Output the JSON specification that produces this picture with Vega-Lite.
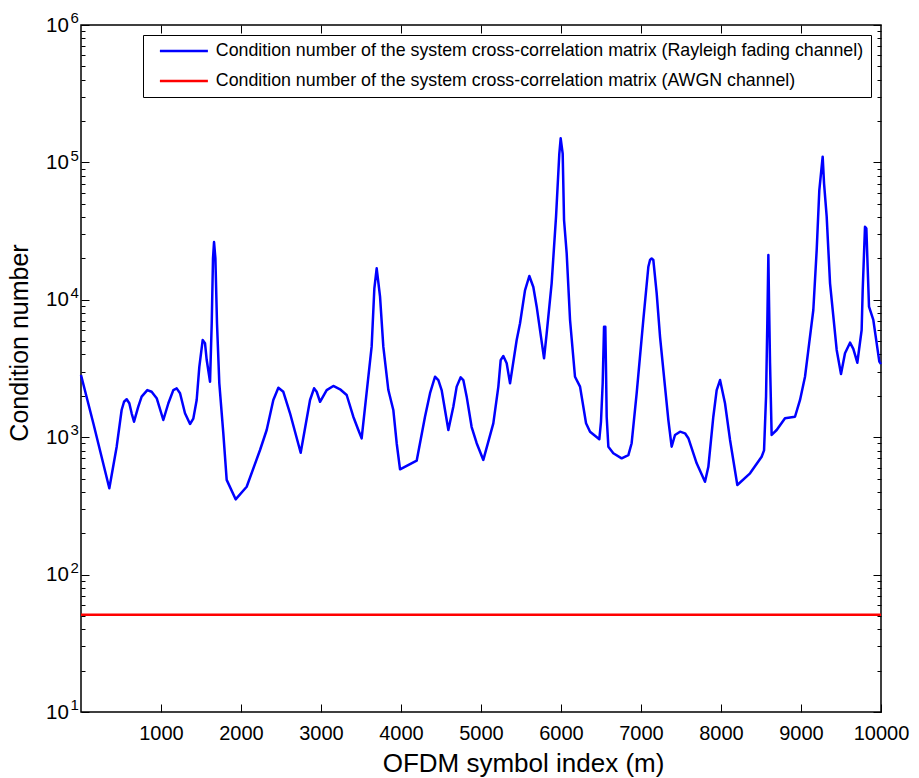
{
  "$schema": "https://vega.github.io/schema/vega-lite/v6.json",
  "width": 800,
  "height": 687,
  "autosize": {"type": "none"},
  "padding": {"left": 81, "top": 25, "right": 38, "bottom": 66},
  "background": "white",
  "config": {
    "view": {"stroke": "black", "strokeWidth": 1.5},
    "font": "Liberation Sans",
    "axis": {"labelFont": "Liberation Sans", "titleFont": "Liberation Sans", "labelColor": "black", "titleColor": "black", "titleFontWeight": "normal", "tickColor": "black", "domain": false, "grid": false, "labelFlush": false, "labelOverlap": false}
  },
  "datasets": {
    "rayleigh": [
      {"m": 0, "c": 2837}, {"m": 154, "c": 1262}, {"m": 354, "c": 425}, {"m": 446, "c": 853}, {"m": 508, "c": 1578}, {"m": 538, "c": 1811},
      {"m": 571, "c": 1890}, {"m": 604, "c": 1766}, {"m": 633, "c": 1493}, {"m": 663, "c": 1297}, {"m": 716, "c": 1667}, {"m": 758, "c": 1973},
      {"m": 829, "c": 2203}, {"m": 883, "c": 2141}, {"m": 946, "c": 1923}, {"m": 1029, "c": 1334}, {"m": 1092, "c": 1766}, {"m": 1154, "c": 2203},
      {"m": 1196, "c": 2266}, {"m": 1238, "c": 2090}, {"m": 1300, "c": 1493}, {"m": 1363, "c": 1248}, {"m": 1404, "c": 1365}, {"m": 1446, "c": 1866},
      {"m": 1479, "c": 3250}, {"m": 1521, "c": 5094}, {"m": 1550, "c": 4830}, {"m": 1571, "c": 3660}, {"m": 1613, "c": 2535}, {"m": 1634, "c": 6745},
      {"m": 1650, "c": 20000}, {"m": 1663, "c": 26300}, {"m": 1680, "c": 20000}, {"m": 1700, "c": 6745}, {"m": 1729, "c": 2466}, {"m": 1779, "c": 1067},
      {"m": 1821, "c": 489}, {"m": 1933, "c": 353}, {"m": 2071, "c": 436}, {"m": 2238, "c": 807}, {"m": 2321, "c": 1128}, {"m": 2404, "c": 1866},
      {"m": 2467, "c": 2291}, {"m": 2529, "c": 2141}, {"m": 2613, "c": 1493}, {"m": 2746, "c": 771}, {"m": 2863, "c": 1866}, {"m": 2913, "c": 2270},
      {"m": 2946, "c": 2141}, {"m": 2988, "c": 1811}, {"m": 3071, "c": 2203}, {"m": 3154, "c": 2360}, {"m": 3238, "c": 2232}, {"m": 3321, "c": 2028},
      {"m": 3404, "c": 1409}, {"m": 3467, "c": 1128}, {"m": 3508, "c": 981}, {"m": 3633, "c": 4561}, {"m": 3667, "c": 12130}, {"m": 3696, "c": 16950},
      {"m": 3738, "c": 10540}, {"m": 3779, "c": 4561}, {"m": 3842, "c": 2203}, {"m": 3904, "c": 1578}, {"m": 3946, "c": 904}, {"m": 3988, "c": 584},
      {"m": 4196, "c": 675}, {"m": 4300, "c": 1409}, {"m": 4363, "c": 2090}, {"m": 4425, "c": 2754}, {"m": 4467, "c": 2606}, {"m": 4508, "c": 2203},
      {"m": 4592, "c": 1128}, {"m": 4654, "c": 1667}, {"m": 4696, "c": 2334}, {"m": 4746, "c": 2727}, {"m": 4779, "c": 2606}, {"m": 4821, "c": 1973},
      {"m": 4883, "c": 1186}, {"m": 4946, "c": 904}, {"m": 5029, "c": 683}, {"m": 5154, "c": 1262}, {"m": 5217, "c": 2334}, {"m": 5246, "c": 3640},
      {"m": 5279, "c": 3898}, {"m": 5321, "c": 3451}, {"m": 5363, "c": 2466}, {"m": 5446, "c": 5094}, {"m": 5488, "c": 6745}, {"m": 5550, "c": 11700},
      {"m": 5604, "c": 14900}, {"m": 5654, "c": 12400}, {"m": 5696, "c": 8913}, {"m": 5788, "c": 3749}, {"m": 5821, "c": 5700}, {"m": 5883, "c": 13180},
      {"m": 5938, "c": 40300}, {"m": 5979, "c": 116000}, {"m": 5996, "c": 149700}, {"m": 6021, "c": 116000}, {"m": 6038, "c": 38100},
      {"m": 6071, "c": 21800}, {"m": 6113, "c": 7130}, {"m": 6175, "c": 2754}, {"m": 6238, "c": 2334}, {"m": 6313, "c": 1262},
      {"m": 6363, "c": 1097}, {"m": 6479, "c": 966}, {"m": 6500, "c": 1300}, {"m": 6521, "c": 2466}, {"m": 6538, "c": 6370},
      {"m": 6554, "c": 6370}, {"m": 6563, "c": 3000}, {"m": 6571, "c": 1409}, {"m": 6592, "c": 853}, {"m": 6654, "c": 764},
      {"m": 6758, "c": 702}, {"m": 6842, "c": 740}, {"m": 6883, "c": 904}, {"m": 6946, "c": 2090}, {"m": 7029, "c": 7130},
      {"m": 7092, "c": 17400}, {"m": 7113, "c": 19500}, {"m": 7133, "c": 20000}, {"m": 7154, "c": 19500}, {"m": 7196, "c": 11140}, {"m": 7238, "c": 5380},
      {"m": 7300, "c": 2334}, {"m": 7342, "c": 1334}, {"m": 7383, "c": 853}, {"m": 7425, "c": 1038}, {"m": 7488, "c": 1097}, {"m": 7550, "c": 1067},
      {"m": 7592, "c": 983}, {"m": 7696, "c": 646}, {"m": 7800, "c": 474}, {"m": 7842, "c": 609}, {"m": 7904, "c": 1409}, {"m": 7946, "c": 2203},
      {"m": 7988, "c": 2606}, {"m": 8050, "c": 1766}, {"m": 8113, "c": 955}, {"m": 8204, "c": 449}, {"m": 8363, "c": 546},
      {"m": 8508, "c": 721}, {"m": 8538, "c": 802}, {"m": 8563, "c": 1973}, {"m": 8579, "c": 6745}, {"m": 8592, "c": 21200},
      {"m": 8600, "c": 10000}, {"m": 8613, "c": 3451}, {"m": 8633, "c": 1038}, {"m": 8696, "c": 1128}, {"m": 8800, "c": 1374},
      {"m": 8925, "c": 1409}, {"m": 8988, "c": 1866}, {"m": 9050, "c": 2754}, {"m": 9092, "c": 4315}, {"m": 9154, "c": 8430},
      {"m": 9196, "c": 23000}, {"m": 9229, "c": 62900}, {"m": 9271, "c": 110000}, {"m": 9288, "c": 70400}, {"m": 9321, "c": 40300},
      {"m": 9363, "c": 13180}, {"m": 9413, "c": 6745}, {"m": 9446, "c": 4315}, {"m": 9500, "c": 2884}, {"m": 9550, "c": 4085},
      {"m": 9613, "c": 4875}, {"m": 9654, "c": 4400}, {"m": 9704, "c": 3484}, {"m": 9758, "c": 6026}, {"m": 9771, "c": 11700},
      {"m": 9800, "c": 34000}, {"m": 9817, "c": 33000}, {"m": 9833, "c": 17400}, {"m": 9850, "c": 8913}, {"m": 9904, "c": 7130},
      {"m": 9946, "c": 4823}, {"m": 9979, "c": 3548}, {"m": 10000, "c": 3400}
    ],
    "awgn": [
      {"m": 0, "c": 51}, {"m": 10000, "c": 51}
    ]
  },
  "resolve": {"axis": {"x": "independent", "y": "independent"}},
  "layer": [
    {
      "data": {"name": "rayleigh"},
      "transform": [{"calculate": "'Condition number of the system cross-correlation matrix (Rayleigh fading channel)'", "as": "series"}],
      "mark": {"type": "line", "strokeWidth": 2.5, "interpolate": "linear", "strokeJoin": "round"},
      "encoding": {
        "x": {"field": "m", "type": "quantitative", "scale": {"domain": [0, 10000], "nice": false, "zero": false},
          "axis": {"orient": "bottom", "values": [1000, 2000, 3000, 4000, 5000, 6000, 7000, 8000, 9000, 10000], "format": "d", "tickSize": -8, "labelPadding": 19.5, "labelFontSize": 20, "title": "OFDM symbol index (m)", "titleFontSize": 26, "titleX": 442, "titleY": 59, "titleAlign": "center", "titleBaseline": "alphabetic", "titleAnchor": null}},
        "y": {"field": "c", "type": "quantitative", "scale": {"type": "log", "domain": [10, 1000000], "nice": false},
          "axis": {"orient": "left", "values": [10, 100, 1000, 10000, 100000, 1000000], "tickSize": -8, "labelPadding": 20.7, "labelFontSize": 20.5, "labelExpr": "'10'", "title": "Condition number", "titleFontSize": 25, "titleX": -54, "titleY": 317.5, "titleAlign": "center", "titleBaseline": "alphabetic", "titleAngle": 270, "titleAnchor": null}},
        "color": {"field": "series", "type": "nominal",
          "scale": {"domain": ["Condition number of the system cross-correlation matrix (Rayleigh fading channel)", "Condition number of the system cross-correlation matrix (AWGN channel)"], "range": ["#0000ff", "#ff0000"]},
          "legend": {"orient": "none", "legendX": 62, "legendY": 10, "title": null, "symbolType": "M-1,0H8.6", "symbolSize": 100, "symbolStrokeWidth": 2.5, "symbolOffset": 6, "labelFontSize": 17.8, "labelFont": "Liberation Sans", "labelColor": "black", "labelLimit": 1000, "strokeColor": "black", "fillColor": "white", "padding": 7, "rowPadding": 11, "labelOffset": 42}}
      }
    },
    {
      "data": {"name": "awgn"},
      "transform": [{"calculate": "'Condition number of the system cross-correlation matrix (AWGN channel)'", "as": "series"}],
      "mark": {"type": "line", "strokeWidth": 2.5},
      "encoding": {
        "x": {"field": "m", "type": "quantitative", "axis": {"orient": "top", "values": [1000, 2000, 3000, 4000, 5000, 6000, 7000, 8000, 9000], "tickSize": -8, "labels": false, "title": null}},
        "y": {"field": "c", "type": "quantitative", "axis": {"orient": "right", "values": [10, 100, 1000, 10000, 100000, 1000000], "tickSize": -8, "labels": false, "title": null}},
        "color": {"field": "series", "type": "nominal"}
      }
    },
    {
      "data": {"name": "awgn"},
      "mark": {"type": "line", "strokeOpacity": 0},
      "encoding": {
        "x": {"field": "m", "type": "quantitative", "axis": null},
        "y": {"field": "c", "type": "quantitative", "axis": {"orient": "left", "values": [20, 30, 40, 50, 60, 70, 80, 90, 200, 300, 400, 500, 600, 700, 800, 900, 2000, 3000, 4000, 5000, 6000, 7000, 8000, 9000, 20000, 30000, 40000, 50000, 60000, 70000, 80000, 90000, 200000, 300000, 400000, 500000, 600000, 700000, 800000, 900000], "tickSize": -4, "labels": false, "title": null}}
      }
    },
    {
      "data": {"name": "awgn"},
      "mark": {"type": "line", "strokeOpacity": 0},
      "encoding": {
        "x": {"field": "m", "type": "quantitative", "axis": null},
        "y": {"field": "c", "type": "quantitative", "axis": {"orient": "right", "values": [20, 30, 40, 50, 60, 70, 80, 90, 200, 300, 400, 500, 600, 700, 800, 900, 2000, 3000, 4000, 5000, 6000, 7000, 8000, 9000, 20000, 30000, 40000, 50000, 60000, 70000, 80000, 90000, 200000, 300000, 400000, 500000, 600000, 700000, 800000, 900000], "tickSize": -4, "labels": false, "title": null}}
      }
    },
    {
      "data": {"name": "awgn"},
      "mark": {"type": "line", "strokeOpacity": 0},
      "encoding": {
        "x": {"field": "m", "type": "quantitative", "axis": null},
        "y": {"field": "c", "type": "quantitative", "axis": {"orient": "left", "values": [10, 100, 1000, 10000, 100000, 1000000], "ticks": false, "labelPadding": 11, "labelAlign": "left", "labelBaseline": "alphabetic", "labelOffset": -2.3, "labelFontSize": 15, "labelExpr": "format(log(datum.value)/LN10, 'd')", "title": null}}
      }
    }
  ]
}
